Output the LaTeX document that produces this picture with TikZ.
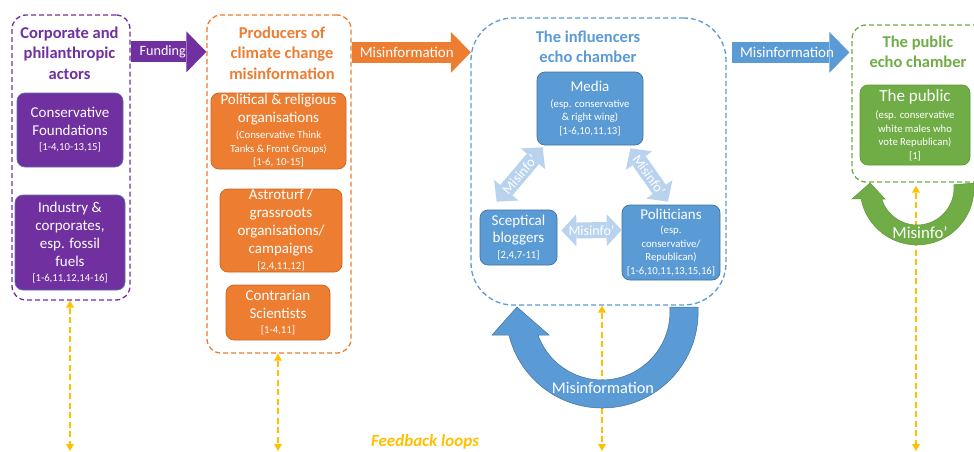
\documentclass[tikz,border=0pt]{standalone}
\usepackage{fontspec}
\setmainfont{Carlito}
\usetikzlibrary{arrows.meta,calc}
\definecolor{cpurple}{HTML}{7030A0}
\definecolor{corange}{HTML}{ED7D31}
\definecolor{cblue}{HTML}{5B9BD5}
\definecolor{cgreen}{HTML}{70AD47}
\definecolor{cyellow}{HTML}{FFC000}
\definecolor{clight}{HTML}{B9D3EE}
\definecolor{bpurple}{HTML}{5E6FA8}
\definecolor{borange}{HTML}{C8651F}
\definecolor{bblue}{HTML}{41719C}
\definecolor{bgreen}{HTML}{5C9A36}
\newcommand\fA{\fontsize{15}{13.5}\selectfont}
\newcommand\fP{\fontsize{17}{13.5}\selectfont}
\newcommand\fB{\fontsize{10.7}{13.5}\selectfont\lineskiplimit=-30pt}
\newcommand\fT{\fontsize{16.5}{20.5}\selectfont\bfseries\lineskiplimit=-30pt}
\begin{document}
\begin{tikzpicture}[x=1pt,y=-1pt,
  container/.style={draw=#1, dash pattern=on 5pt off 3pt, line width=1.3pt,
    rounded corners=14pt, inner sep=0pt, fill=none},
  ttl/.style={text=#1, font=\fT, align=center, inner sep=0pt},
  box/.style 2 args={fill=#1, draw=#2, line width=0.7pt, rounded corners=8pt,
    text=white, align=center, inner sep=0pt, font=\fB},
  barrow/.style={draw=#1, line width=21pt,
    -{Triangle[length=20pt,width=41pt,line width=0pt]}},
  darrow/.style={draw=clight, line width=16pt,
    {Triangle[length=15pt,width=32pt,line width=0pt]}-{Triangle[length=15pt,width=32pt,line width=0pt]}},
  fb/.style={draw=cyellow, line width=2.2pt, dash pattern=on 6pt off 3.5pt,
    {Triangle[length=7pt,width=8pt,line width=0pt]}-{Triangle[length=7pt,width=8pt,line width=0pt]}},
  lbl/.style={text=white, font=\fontsize{15}{17}\selectfont, inner sep=0pt},
  mlbl/.style={text=white, font=\fontsize{14}{16}\selectfont, inner sep=0pt},
]
\useasboundingbox (0,0) rectangle (974,452);
\fill[white] (0,0) rectangle (974,452);
\clip (0,0) rectangle (974,452);

% containers
\node[container=cpurple, minimum width=118, minimum height=285] (cpa) at (71,157.5) {};
\node[container=corange, minimum width=144, minimum height=338] (prod) at (279,184) {};
\node[container=cblue, minimum width=255, minimum height=287, rounded corners=42pt] (infl) at (598.5,161.5) {};
\node[container=cgreen, minimum width=140, minimum height=157] (pubc) at (922,103.5) {};

% titles
\node[ttl=cpurple] (tcpa) at (69.5,53) {Corporate and\\philanthropic\\actors};
\node[ttl=corange] (tprod) at (282,53) {Producers of\\climate change\\misinformation};
\node[ttl=cblue] (tinfl) at (588,47) {The influencers\\echo chamber};
\node[ttl=cgreen] (tpub) at (918,52) {The public\\echo chamber};

% purple boxes
\node[box={cpurple}{bpurple}, minimum width=106, minimum height=74] (cf) at (70,130)
  {\fA Conservative\\[4.5pt]\fA Foundations\\[1.5pt][1-4,10-13,15]};
\node[box={cpurple}{bpurple}, minimum width=110, minimum height=95] (ind) at (70,242.5)
  {\fA Industry \&\\[4.5pt]\fA corporates,\\[4.5pt]\fA esp. fossil\\[4.5pt]\fA fuels\\[1.5pt][1-6,11,12,14-16]};

% orange boxes
\node[box={corange}{borange}, minimum width=135, minimum height=76] (pol1) at (278.5,131)
  {\fA Political \& religious\\[4.5pt]\fA organisations\\[2.5pt](Conservative Think\\Tanks \& Front Groups)\\{}[1-6, 10-15]};
\node[box={corange}{borange}, minimum width=122, minimum height=83] (astro) at (281,230.5)
  {\fA Astroturf /\\[4.5pt]\fA grassroots\\[4.5pt]\fA organisations/\\[4.5pt]\fA campaigns\\[2.5pt][2,4,11,12]};
\node[box={corange}{borange}, minimum width=104, minimum height=55] (contra) at (278,312.5)
  {\fA Contrarian\\[4.5pt]\fA Scientists\\[1.5pt][1-4,11]};

% blue boxes
\node[box={cblue}{bblue}, minimum width=106, minimum height=73] (media) at (590,108.5)
  {\fA Media\\[2.5pt](esp. conservative\\\& right wing)\\{}[1-6,10,11,13]};
\node[box={cblue}{bblue}, minimum width=77, minimum height=55] (blog) at (518.5,237.5)
  {\fA Sceptical\\[3.5pt]\fA bloggers\\[2.5pt][2,4,7-11]};
\node[box={cblue}{bblue}, minimum width=98, minimum height=75] (polit) at (671,242.5)
  {\fA Politicians\\[1pt](esp.\\conservative/\\Republican)\\{}[1-6,10,11,13,15,16]};

% green box
\node[box={cgreen}{bgreen}, minimum width=110, minimum height=80] (public) at (915,125)
  {\fP The public\\[4pt](esp. conservative\\white males who\\vote Republican)\\{}[1]};

% block arrows between containers
\draw[barrow=cpurple] ($(cpa.north east)+(0.5,37.5)$) -- node[lbl, pos=0.42, font=\fontsize{14.2}{16}\selectfont] (lfund) {Funding} ($(prod.north west)+(0,37.5)$);
\draw[barrow=corange] ($(prod.north east)+(0.5,38)$) -- node[lbl, pos=0.46] (lmis1) {Misinformation} ($(infl.north west)+(0.5,35)$);
\draw[barrow=cblue] ($(infl.north east)+(5,35)$) -- node[lbl, pos=0.47] (lmis2) {Misinformation} ($(pubc.north west)+(-2,28)$);

% Misinfo' double arrows
\draw[darrow] ($(blog.north west)+(17,-8)$) -- node[mlbl, sloped] (lm1) {Misinfo’} ($(media.south west)+(6,2)$);
\draw[darrow] ($(media.south east)+(-13,3)$) -- node[mlbl, sloped] (lm2) {Misinfo’} ($(polit.north)+(-3,-3)$);
\draw[darrow] ($(blog.east)+(4,-7)$) -- node[mlbl] (lm3) {Misinfo’} ($(polit.west)+(0,-12.5)$);

% feedback loops
\coordinate (fb1) at (70,451);
\coordinate (fb2) at (278,451);
\coordinate (fb3) at (602,451);
\coordinate (fb4) at (916,451);
\draw[fb] (cpa.south -| fb1) -- (fb1);
\draw[fb] (prod.south -| fb2) -- (fb2);
\draw[fb] (infl.south -| fb3) -- (fb3);
\draw[fb] ($(pubc.south -| fb4)+(0,3)$) -- (fb4);
\node[text=cyellow, font=\fontsize{17}{19}\selectfont\bfseries\itshape, inner sep=0pt] (fbl) at (425,442) {Feedback loops};

% curved self arrows
\filldraw[fill=cblue, draw=bblue, line width=0.5pt]
  (698,307) arc[start angle=-3, end angle=166, radius=96]
  -- (492,335) -- (517,307) -- (549,335) -- (538,335)
  arc[start angle=160.2, end angle=-4, radius=68] -- cycle;
\node[lbl, font=\fontsize{16.3}{18}\selectfont] (lmis3) at (603,388) {Misinformation};

\filldraw[fill=cgreen, draw=bgreen, line width=0.5pt]
  (973.8,183) arc[start angle=-5, end angle=168.9, radius=57]
  -- (852,199) -- (870,183) -- (885,199) -- (881.7,199)
  arc[start angle=162.7, end angle=-5, radius=37] -- cycle;
\node[lbl, font=\fontsize{16.8}{18}\selectfont] (lmis4) at (920,233) {Misinfo’};
\end{tikzpicture}
\end{document}
